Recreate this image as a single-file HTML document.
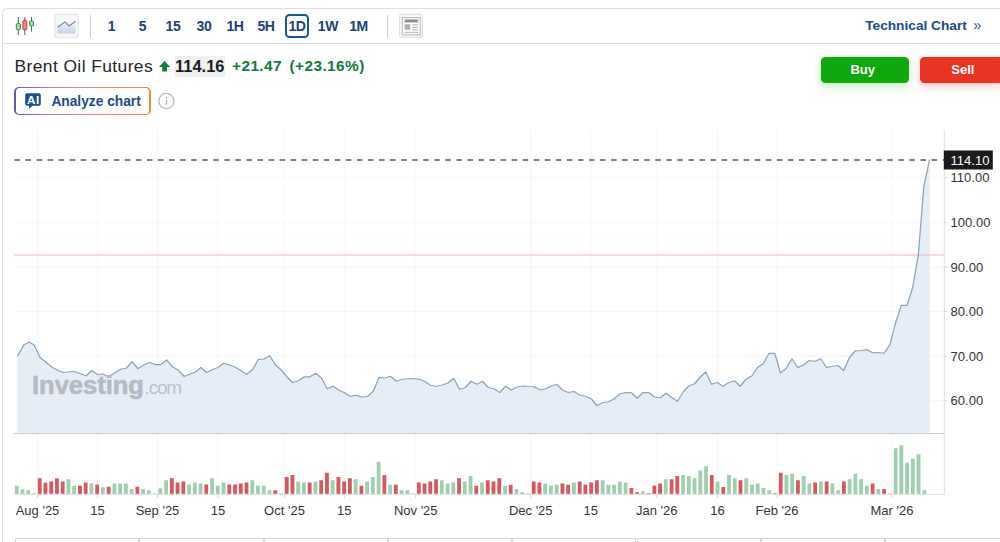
<!DOCTYPE html>
<html><head><meta charset="utf-8"><title>Brent Oil Futures</title>
<style>
html,body{margin:0;padding:0;background:#fff;}
body{width:1000px;height:542px;overflow:hidden;position:relative;font-family:"Liberation Sans",sans-serif;}
.frame{position:absolute;left:2px;top:8.15px;width:1100px;height:700px;border:1.5px solid #dedede;border-radius:4.5px;box-sizing:border-box;}
.tbsep{position:absolute;left:3px;top:42.6px;width:1000px;height:1.2px;background:#dedede;}
.tf{position:absolute;top:15px;width:30px;height:22px;line-height:22px;text-align:center;font-weight:bold;font-size:14px;color:#1c3f78;letter-spacing:-0.35px;}
.sel{position:absolute;left:285.2px;top:14.3px;width:24px;height:23.4px;box-sizing:border-box;border:2px solid #1256a0;border-radius:4.5px;}
.vsep{position:absolute;top:14.5px;width:1.1px;height:23px;background:#cdcdcd;}
.title{position:absolute;left:14.5px;top:56px;font-size:17.4px;letter-spacing:0.42px;line-height:20px;color:#232526;white-space:nowrap;}
.price{position:absolute;left:174.5px;top:55.5px;width:50px;height:21.5px;background:#eef0f1;}
.price span{position:absolute;left:0.5px;top:0;line-height:21.5px;font-weight:bold;font-size:16.4px;color:#181c21;letter-spacing:0.05px;}
.chg{position:absolute;top:56px;line-height:20px;font-weight:bold;font-size:15.4px;letter-spacing:0.42px;color:#0f7b3c;white-space:nowrap;}
.ai{position:absolute;left:14.4px;top:86.5px;width:136.2px;height:28.5px;border-radius:5px;background:linear-gradient(90deg,#5f55b8 0%,#9566c6 14%,#d979a6 32%,#e9808a 52%,#ef8658 78%,#f08a3a 100%);}
.ai .in{position:absolute;left:1.4px;top:1.4px;right:1.4px;bottom:1.4px;background:#fff;border-radius:3.5px;}
.ai .tx{position:absolute;left:37px;top:1px;line-height:28.5px;font-weight:bold;font-size:13.75px;color:#1a4a8c;white-space:nowrap;}
.btn{position:absolute;top:57px;height:26px;line-height:26px;border-radius:4.5px;color:#fff;font-weight:bold;font-size:13px;text-align:center;}
.buy{left:821px;width:88px;box-sizing:border-box;padding-right:4.6px;background:#11a70f;box-shadow:0 3px 8px rgba(17,167,15,.28);}
.sell{left:920.3px;width:85px;background:#e93323;box-shadow:0 3px 8px rgba(233,51,35,.28);}
.tech{position:absolute;left:865.2px;top:15px;line-height:22px;font-weight:bold;font-size:13.7px;color:#1c4a8a;white-space:nowrap;}
.tech2{position:absolute;left:973.3px;top:13.6px;line-height:22px;font-size:14.6px;color:#2d5590;}
.cell{position:absolute;top:537.7px;width:124.3px;height:20px;border:1px solid #d6d6d6;box-sizing:border-box;}
svg{position:absolute;left:0;top:0;}
.ax{font-family:"Liberation Sans",sans-serif;font-size:13px;fill:#333538;}
.wm{position:absolute;left:32px;top:370px;line-height:30px;white-space:nowrap;color:#b6bac5;}
.wm b{font-size:25.6px;letter-spacing:-0.05px;-webkit-text-stroke:0.55px #b6bac5;}
.wm i{font-style:normal;font-size:19px;letter-spacing:-1.2px;margin-left:0.7px;color:#bcc1cc;}
</style></head><body>
<div class="frame"></div>
<div class="tbsep"></div>
<div class="tf" style="left:96.5px">1</div>
<div class="tf" style="left:127.5px">5</div>
<div class="tf" style="left:158px">15</div>
<div class="tf" style="left:189px">30</div>
<div class="tf" style="left:220px">1H</div>
<div class="tf" style="left:251px">5H</div>
<div class="tf" style="left:282px">1D</div>
<div class="tf" style="left:313px">1W</div>
<div class="tf" style="left:343.5px">1M</div>
<div class="sel"></div>
<div class="vsep" style="left:89.5px"></div>
<div class="vsep" style="left:386.9px"></div>
<div class="tech">Technical Chart</div><div class="tech2">&raquo;</div>
<div class="title">Brent Oil Futures</div>
<div class="price"><span>114.16</span></div>
<div class="chg" style="left:232px">+21.47</div>
<div class="chg" style="left:289.5px">(+23.16%)</div>
<div class="ai"><div class="in"></div><div class="tx">Analyze chart</div></div>
<div class="btn buy">Buy</div>
<div class="btn sell">Sell</div>
<div class="cell" style="left:15.0px"></div>
<div class="cell" style="left:139.3px"></div>
<div class="cell" style="left:263.6px"></div>
<div class="cell" style="left:387.9px"></div>
<div class="cell" style="left:512.2px"></div>
<div class="cell" style="left:636.5px"></div>
<div class="cell" style="left:760.8px"></div>
<div class="cell" style="left:885.1px"></div>
<svg width="1000" height="542" viewBox="0 0 1000 542">
<defs>
<linearGradient id="lg" x1="0" y1="0" x2="0" y2="1"><stop offset="0" stop-color="#f4f6fb"/><stop offset="1" stop-color="#c6d2e8"/></linearGradient>
</defs>
<!-- toolbar icons -->
<g>
<line x1="18.3" y1="17" x2="18.3" y2="35" stroke="#5a626c" stroke-width="1"/>
<rect x="16.3" y="23.6" width="4" height="6.2" rx="1" fill="#9fe0a0" stroke="#3a8a48" stroke-width="1"/>
<line x1="24.8" y1="17" x2="24.8" y2="35" stroke="#5a626c" stroke-width="1"/>
<rect x="22.9" y="20.3" width="3.9" height="9.5" rx="1" fill="#f4828a" stroke="#c43c48" stroke-width="1"/>
<line x1="31.5" y1="17" x2="31.5" y2="31.6" stroke="#5a626c" stroke-width="1"/>
<rect x="29.6" y="21" width="3.9" height="5" rx="1" fill="#9fe0a0" stroke="#3a8a48" stroke-width="1"/>
<rect x="54.8" y="14.3" width="23.4" height="23.4" rx="2.5" fill="#f7f7f8" stroke="#e2e3e5" stroke-width="1.1"/>
<path d="M57.5,27.3 L65,21.9 L69.1,26 L75.6,21.3 L75.6,33.5 L57.5,33.5 Z" fill="url(#lg)"/>
<path d="M57.5,27.3 L65,21.9 L69.1,26 L75.6,21.3" fill="none" stroke="#74829c" stroke-width="1.1"/>
<rect x="399.6" y="14.4" width="22.8" height="23" rx="2" fill="#fafafa" stroke="#e2e2e2" stroke-width="1.2"/>
<rect x="402.3" y="17.6" width="17.9" height="17.3" fill="#fdfdfd" stroke="#b4b4b4" stroke-width="1"/>
<rect x="404.6" y="19.5" width="13.6" height="2.9" fill="#8d8d8d"/>
<rect x="404.6" y="24.2" width="5.6" height="5.6" fill="#b0b0b0"/>
<rect x="412.2" y="24.3" width="6" height="1" fill="#b4b4b4"/>
<rect x="412.2" y="26.9" width="6" height="1" fill="#b4b4b4"/>
<rect x="412.2" y="29.3" width="6" height="1" fill="#b4b4b4"/>
<rect x="404.6" y="31.8" width="13.6" height="1" fill="#b4b4b4"/>
</g>
<!-- arrow up -->
<path d="M164.6,61 L170.2,67 L167,67 L167,71.6 L162.2,71.6 L162.2,67 L159,67 Z" fill="#0f7b3c"/>
<!-- AI icon -->
<g>
<path d="M27,93.2 h12 a1.8,1.8 0 0 1 1.8,1.8 v9 a1.8,1.8 0 0 1 -1.8,1.8 h-6.4 l-3.6,3 v-3 h-2 a1.8,1.8 0 0 1 -1.8,-1.8 v-9 a1.8,1.8 0 0 1 1.8,-1.8 z" fill="#1a4f96"/>
<text x="33.35" y="103.7" text-anchor="middle" font-family="Liberation Sans, sans-serif" font-weight="bold" font-size="11.6" letter-spacing="0.5" fill="#fff">AI</text>
</g>
<!-- info -->
<circle cx="166.4" cy="101" r="7.6" fill="#fff" stroke="#b9b9b9" stroke-width="1.3"/>
<rect x="165.8" y="99.8" width="1.3" height="5" fill="#b0b0b0"/>
<rect x="165.8" y="97" width="1.3" height="1.5" fill="#b0b0b0"/>
<!-- chart -->
<line x1="37.5" y1="130" x2="37.5" y2="494.0" stroke="#f6f6f7" stroke-width="1"/>
<line x1="97.5" y1="130" x2="97.5" y2="494.0" stroke="#f6f6f7" stroke-width="1"/>
<line x1="157.5" y1="130" x2="157.5" y2="494.0" stroke="#f6f6f7" stroke-width="1"/>
<line x1="218" y1="130" x2="218" y2="494.0" stroke="#f6f6f7" stroke-width="1"/>
<line x1="284.5" y1="130" x2="284.5" y2="494.0" stroke="#f6f6f7" stroke-width="1"/>
<line x1="344.25" y1="130" x2="344.25" y2="494.0" stroke="#f6f6f7" stroke-width="1"/>
<line x1="415.75" y1="130" x2="415.75" y2="494.0" stroke="#f6f6f7" stroke-width="1"/>
<line x1="530.75" y1="130" x2="530.75" y2="494.0" stroke="#f6f6f7" stroke-width="1"/>
<line x1="590.75" y1="130" x2="590.75" y2="494.0" stroke="#f6f6f7" stroke-width="1"/>
<line x1="656.75" y1="130" x2="656.75" y2="494.0" stroke="#f6f6f7" stroke-width="1"/>
<line x1="717.5" y1="130" x2="717.5" y2="494.0" stroke="#f6f6f7" stroke-width="1"/>
<line x1="777" y1="130" x2="777" y2="494.0" stroke="#f6f6f7" stroke-width="1"/>
<line x1="892" y1="130" x2="892" y2="494.0" stroke="#f6f6f7" stroke-width="1"/>
<line x1="14" y1="177.7" x2="944.3" y2="177.7" stroke="#f6f6f7" stroke-width="1"/>
<line x1="14" y1="222.7" x2="944.3" y2="222.7" stroke="#f6f6f7" stroke-width="1"/>
<line x1="14" y1="267.2" x2="944.3" y2="267.2" stroke="#f6f6f7" stroke-width="1"/>
<line x1="14" y1="311.7" x2="944.3" y2="311.7" stroke="#f6f6f7" stroke-width="1"/>
<line x1="14" y1="356.2" x2="944.3" y2="356.2" stroke="#f6f6f7" stroke-width="1"/>
<line x1="14" y1="400.7" x2="944.3" y2="400.7" stroke="#f6f6f7" stroke-width="1"/>
<path d="M17.50,433.0 L17.50,356.25 L23.75,345.00 L28.75,342.00 L34.25,345.00 L40.00,357.50 L46.25,362.50 L52.50,367.50 L58.75,370.75 L63.75,372.50 L68.75,371.75 L74.25,371.50 L80.00,373.50 L86.25,375.75 L91.75,370.50 L97.50,374.50 L103.00,374.00 L108.75,377.00 L115.00,372.50 L121.25,369.00 L126.25,368.25 L132.00,361.75 L138.00,368.75 L143.75,365.00 L149.50,362.50 L155.00,364.50 L160.75,364.50 L166.75,360.00 L172.50,366.75 L178.00,370.00 L184.25,376.50 L190.00,374.00 L195.50,372.00 L200.75,367.50 L206.50,372.50 L212.50,369.50 L218.00,367.50 L223.75,363.25 L229.50,365.00 L235.00,367.00 L241.25,370.75 L246.75,374.25 L252.50,369.50 L258.25,359.50 L264.00,359.00 L269.75,355.75 L275.50,365.00 L281.25,370.00 L287.00,377.00 L292.75,382.50 L298.50,380.75 L304.25,376.75 L310.00,376.75 L315.75,373.25 L321.50,378.00 L327.25,388.75 L333.00,386.25 L338.75,390.00 L344.50,392.75 L350.25,396.25 L356.00,395.25 L361.75,397.00 L367.50,396.50 L373.25,391.25 L379.00,377.50 L384.75,378.00 L390.50,376.25 L396.25,381.25 L402.00,379.25 L407.75,378.75 L413.50,378.50 L419.25,379.25 L425.00,381.50 L430.75,385.50 L436.50,386.25 L442.25,385.00 L448.00,383.00 L453.75,378.25 L459.50,389.25 L465.25,387.50 L471.00,381.25 L476.75,384.25 L482.50,381.25 L488.25,387.50 L494.00,388.75 L499.75,392.50 L505.50,386.25 L511.25,390.00 L517.00,387.00 L522.75,386.00 L528.50,386.50 L534.25,386.75 L540.00,390.00 L545.75,388.75 L551.50,386.00 L556.75,384.25 L562.50,390.00 L568.25,392.50 L574.00,391.50 L579.75,395.00 L585.50,396.25 L591.25,398.75 L597.00,405.75 L602.75,402.50 L608.50,401.75 L614.25,398.75 L620.00,393.75 L625.75,392.50 L631.50,392.75 L637.25,398.25 L643.00,392.50 L648.75,392.50 L654.50,397.00 L660.25,397.75 L666.00,393.25 L671.75,397.50 L677.50,401.25 L683.25,391.75 L689.00,385.75 L694.75,383.75 L700.50,376.75 L705.75,372.00 L711.50,384.25 L717.25,382.50 L723.00,386.25 L728.75,382.50 L734.50,380.75 L740.25,386.25 L746.00,379.25 L751.75,376.00 L757.50,367.50 L763.25,363.75 L769.00,353.25 L774.75,353.25 L780.50,373.00 L786.25,368.25 L792.00,358.75 L797.75,367.50 L803.50,365.00 L809.25,360.50 L815.00,361.25 L820.75,358.75 L826.50,367.50 L832.25,366.25 L838.00,365.50 L843.75,370.50 L849.50,357.50 L855.25,350.75 L861.00,350.50 L866.75,349.50 L872.50,352.75 L878.25,352.50 L884.00,353.25 L889.80,344.80 L895.60,322.70 L901.30,305.40 L907.00,305.40 L912.60,287.80 L918.30,255.00 L923.80,186.50 L929.60,159.60 L929.60,433.0 Z" fill="#e6edf6"/>
<line x1="14" y1="255" x2="944.3" y2="255" stroke="#f4b8be" stroke-width="1"/>
<polyline points="17.50,356.25 23.75,345.00 28.75,342.00 34.25,345.00 40.00,357.50 46.25,362.50 52.50,367.50 58.75,370.75 63.75,372.50 68.75,371.75 74.25,371.50 80.00,373.50 86.25,375.75 91.75,370.50 97.50,374.50 103.00,374.00 108.75,377.00 115.00,372.50 121.25,369.00 126.25,368.25 132.00,361.75 138.00,368.75 143.75,365.00 149.50,362.50 155.00,364.50 160.75,364.50 166.75,360.00 172.50,366.75 178.00,370.00 184.25,376.50 190.00,374.00 195.50,372.00 200.75,367.50 206.50,372.50 212.50,369.50 218.00,367.50 223.75,363.25 229.50,365.00 235.00,367.00 241.25,370.75 246.75,374.25 252.50,369.50 258.25,359.50 264.00,359.00 269.75,355.75 275.50,365.00 281.25,370.00 287.00,377.00 292.75,382.50 298.50,380.75 304.25,376.75 310.00,376.75 315.75,373.25 321.50,378.00 327.25,388.75 333.00,386.25 338.75,390.00 344.50,392.75 350.25,396.25 356.00,395.25 361.75,397.00 367.50,396.50 373.25,391.25 379.00,377.50 384.75,378.00 390.50,376.25 396.25,381.25 402.00,379.25 407.75,378.75 413.50,378.50 419.25,379.25 425.00,381.50 430.75,385.50 436.50,386.25 442.25,385.00 448.00,383.00 453.75,378.25 459.50,389.25 465.25,387.50 471.00,381.25 476.75,384.25 482.50,381.25 488.25,387.50 494.00,388.75 499.75,392.50 505.50,386.25 511.25,390.00 517.00,387.00 522.75,386.00 528.50,386.50 534.25,386.75 540.00,390.00 545.75,388.75 551.50,386.00 556.75,384.25 562.50,390.00 568.25,392.50 574.00,391.50 579.75,395.00 585.50,396.25 591.25,398.75 597.00,405.75 602.75,402.50 608.50,401.75 614.25,398.75 620.00,393.75 625.75,392.50 631.50,392.75 637.25,398.25 643.00,392.50 648.75,392.50 654.50,397.00 660.25,397.75 666.00,393.25 671.75,397.50 677.50,401.25 683.25,391.75 689.00,385.75 694.75,383.75 700.50,376.75 705.75,372.00 711.50,384.25 717.25,382.50 723.00,386.25 728.75,382.50 734.50,380.75 740.25,386.25 746.00,379.25 751.75,376.00 757.50,367.50 763.25,363.75 769.00,353.25 774.75,353.25 780.50,373.00 786.25,368.25 792.00,358.75 797.75,367.50 803.50,365.00 809.25,360.50 815.00,361.25 820.75,358.75 826.50,367.50 832.25,366.25 838.00,365.50 843.75,370.50 849.50,357.50 855.25,350.75 861.00,350.50 866.75,349.50 872.50,352.75 878.25,352.50 884.00,353.25 889.80,344.80 895.60,322.70 901.30,305.40 907.00,305.40 912.60,287.80 918.30,255.00 923.80,186.50 929.60,159.60" fill="none" stroke="#88a4b8" stroke-width="1.25" stroke-linejoin="round"/>
<line x1="14" y1="433.5" x2="944.3" y2="433.5" stroke="#c9ccd2" stroke-width="1.2"/>
<rect x="14.85" y="485.75" width="3.8" height="8.25" fill="#9dcfb0"/>
<rect x="20.59" y="489.25" width="3.8" height="4.75" fill="#9dcfb0"/>
<rect x="26.34" y="490.25" width="3.8" height="3.75" fill="#9dcfb0"/>
<rect x="32.08" y="493.25" width="3.8" height="0.75" fill="#9dcfb0"/>
<rect x="37.83" y="478.25" width="3.8" height="15.75" fill="#d9575f"/>
<rect x="43.57" y="482.75" width="3.8" height="11.25" fill="#d9575f"/>
<rect x="49.31" y="481.50" width="3.8" height="12.50" fill="#d9575f"/>
<rect x="55.06" y="478.25" width="3.8" height="15.75" fill="#d9575f"/>
<rect x="60.80" y="481.50" width="3.8" height="12.50" fill="#d9575f"/>
<rect x="66.55" y="479.25" width="3.8" height="14.75" fill="#9dcfb0"/>
<rect x="72.29" y="485.75" width="3.8" height="8.25" fill="#9dcfb0"/>
<rect x="78.03" y="485.75" width="3.8" height="8.25" fill="#d9575f"/>
<rect x="83.78" y="482.50" width="3.8" height="11.50" fill="#d9575f"/>
<rect x="89.52" y="483.50" width="3.8" height="10.50" fill="#9dcfb0"/>
<rect x="95.27" y="484.50" width="3.8" height="9.50" fill="#d9575f"/>
<rect x="101.01" y="487.25" width="3.8" height="6.75" fill="#9dcfb0"/>
<rect x="106.75" y="486.75" width="3.8" height="7.25" fill="#d9575f"/>
<rect x="112.50" y="483.50" width="3.8" height="10.50" fill="#9dcfb0"/>
<rect x="118.24" y="483.50" width="3.8" height="10.50" fill="#9dcfb0"/>
<rect x="123.99" y="483.50" width="3.8" height="10.50" fill="#9dcfb0"/>
<rect x="129.73" y="489.00" width="3.8" height="5.00" fill="#9dcfb0"/>
<rect x="135.47" y="486.75" width="3.8" height="7.25" fill="#d9575f"/>
<rect x="141.22" y="489.00" width="3.8" height="5.00" fill="#9dcfb0"/>
<rect x="146.96" y="490.25" width="3.8" height="3.75" fill="#9dcfb0"/>
<rect x="152.71" y="493.50" width="3.8" height="0.50" fill="#9dcfb0"/>
<rect x="158.45" y="488.25" width="3.8" height="5.75" fill="#9dcfb0"/>
<rect x="164.19" y="480.25" width="3.8" height="13.75" fill="#9dcfb0"/>
<rect x="169.94" y="478.25" width="3.8" height="15.75" fill="#d9575f"/>
<rect x="175.68" y="482.50" width="3.8" height="11.50" fill="#d9575f"/>
<rect x="181.43" y="481.50" width="3.8" height="12.50" fill="#d9575f"/>
<rect x="187.17" y="484.50" width="3.8" height="9.50" fill="#9dcfb0"/>
<rect x="192.91" y="482.50" width="3.8" height="11.50" fill="#9dcfb0"/>
<rect x="198.66" y="483.50" width="3.8" height="10.50" fill="#9dcfb0"/>
<rect x="204.40" y="484.50" width="3.8" height="9.50" fill="#d9575f"/>
<rect x="210.15" y="478.25" width="3.8" height="15.75" fill="#9dcfb0"/>
<rect x="215.89" y="485.75" width="3.8" height="8.25" fill="#9dcfb0"/>
<rect x="221.63" y="482.50" width="3.8" height="11.50" fill="#9dcfb0"/>
<rect x="227.38" y="484.50" width="3.8" height="9.50" fill="#d9575f"/>
<rect x="233.12" y="484.50" width="3.8" height="9.50" fill="#d9575f"/>
<rect x="238.87" y="483.50" width="3.8" height="10.50" fill="#d9575f"/>
<rect x="244.61" y="482.50" width="3.8" height="11.50" fill="#d9575f"/>
<rect x="250.35" y="480.25" width="3.8" height="13.75" fill="#9dcfb0"/>
<rect x="256.10" y="485.75" width="3.8" height="8.25" fill="#9dcfb0"/>
<rect x="261.84" y="485.75" width="3.8" height="8.25" fill="#9dcfb0"/>
<rect x="267.59" y="490.25" width="3.8" height="3.75" fill="#9dcfb0"/>
<rect x="273.33" y="490.25" width="3.8" height="3.75" fill="#d9575f"/>
<rect x="279.07" y="493.50" width="3.8" height="0.50" fill="#9dcfb0"/>
<rect x="284.82" y="477.00" width="3.8" height="17.00" fill="#d9575f"/>
<rect x="290.56" y="475.00" width="3.8" height="19.00" fill="#d9575f"/>
<rect x="296.31" y="481.50" width="3.8" height="12.50" fill="#9dcfb0"/>
<rect x="302.05" y="482.50" width="3.8" height="11.50" fill="#9dcfb0"/>
<rect x="307.79" y="482.50" width="3.8" height="11.50" fill="#d9575f"/>
<rect x="313.54" y="481.50" width="3.8" height="12.50" fill="#9dcfb0"/>
<rect x="319.28" y="480.25" width="3.8" height="13.75" fill="#d9575f"/>
<rect x="325.03" y="472.75" width="3.8" height="21.25" fill="#d9575f"/>
<rect x="330.77" y="480.25" width="3.8" height="13.75" fill="#9dcfb0"/>
<rect x="336.51" y="477.00" width="3.8" height="17.00" fill="#d9575f"/>
<rect x="342.26" y="481.50" width="3.8" height="12.50" fill="#d9575f"/>
<rect x="348.00" y="478.25" width="3.8" height="15.75" fill="#d9575f"/>
<rect x="353.75" y="479.25" width="3.8" height="14.75" fill="#9dcfb0"/>
<rect x="359.49" y="485.75" width="3.8" height="8.25" fill="#d9575f"/>
<rect x="365.23" y="481.50" width="3.8" height="12.50" fill="#9dcfb0"/>
<rect x="370.98" y="477.00" width="3.8" height="17.00" fill="#9dcfb0"/>
<rect x="376.72" y="461.75" width="3.8" height="32.25" fill="#9dcfb0"/>
<rect x="382.47" y="475.00" width="3.8" height="19.00" fill="#d9575f"/>
<rect x="388.21" y="484.75" width="3.8" height="9.25" fill="#9dcfb0"/>
<rect x="393.95" y="484.75" width="3.8" height="9.25" fill="#d9575f"/>
<rect x="399.70" y="490.25" width="3.8" height="3.75" fill="#9dcfb0"/>
<rect x="405.44" y="490.25" width="3.8" height="3.75" fill="#9dcfb0"/>
<rect x="411.19" y="493.50" width="3.8" height="0.50" fill="#9dcfb0"/>
<rect x="416.93" y="482.50" width="3.8" height="11.50" fill="#d9575f"/>
<rect x="422.67" y="483.50" width="3.8" height="10.50" fill="#d9575f"/>
<rect x="428.42" y="481.50" width="3.8" height="12.50" fill="#d9575f"/>
<rect x="434.16" y="479.25" width="3.8" height="14.75" fill="#d9575f"/>
<rect x="439.91" y="480.25" width="3.8" height="13.75" fill="#9dcfb0"/>
<rect x="445.65" y="483.50" width="3.8" height="10.50" fill="#9dcfb0"/>
<rect x="451.39" y="482.50" width="3.8" height="11.50" fill="#9dcfb0"/>
<rect x="457.14" y="478.25" width="3.8" height="15.75" fill="#d9575f"/>
<rect x="462.88" y="481.50" width="3.8" height="12.50" fill="#9dcfb0"/>
<rect x="468.63" y="476.00" width="3.8" height="18.00" fill="#9dcfb0"/>
<rect x="474.37" y="485.75" width="3.8" height="8.25" fill="#d9575f"/>
<rect x="480.11" y="482.50" width="3.8" height="11.50" fill="#9dcfb0"/>
<rect x="485.86" y="480.25" width="3.8" height="13.75" fill="#d9575f"/>
<rect x="491.60" y="481.50" width="3.8" height="12.50" fill="#d9575f"/>
<rect x="497.35" y="478.25" width="3.8" height="15.75" fill="#d9575f"/>
<rect x="503.09" y="485.75" width="3.8" height="8.25" fill="#9dcfb0"/>
<rect x="508.83" y="484.75" width="3.8" height="9.25" fill="#d9575f"/>
<rect x="514.58" y="489.00" width="3.8" height="5.00" fill="#9dcfb0"/>
<rect x="520.32" y="492.25" width="3.8" height="1.75" fill="#9dcfb0"/>
<rect x="526.07" y="493.25" width="3.8" height="0.75" fill="#9dcfb0"/>
<rect x="531.81" y="481.50" width="3.8" height="12.50" fill="#d9575f"/>
<rect x="537.55" y="482.50" width="3.8" height="11.50" fill="#d9575f"/>
<rect x="543.30" y="483.50" width="3.8" height="10.50" fill="#9dcfb0"/>
<rect x="549.04" y="485.75" width="3.8" height="8.25" fill="#9dcfb0"/>
<rect x="554.79" y="484.75" width="3.8" height="9.25" fill="#9dcfb0"/>
<rect x="560.53" y="483.50" width="3.8" height="10.50" fill="#d9575f"/>
<rect x="566.27" y="484.75" width="3.8" height="9.25" fill="#d9575f"/>
<rect x="572.02" y="482.50" width="3.8" height="11.50" fill="#9dcfb0"/>
<rect x="577.76" y="481.50" width="3.8" height="12.50" fill="#d9575f"/>
<rect x="583.51" y="484.75" width="3.8" height="9.25" fill="#d9575f"/>
<rect x="589.25" y="482.50" width="3.8" height="11.50" fill="#d9575f"/>
<rect x="594.99" y="480.25" width="3.8" height="13.75" fill="#d9575f"/>
<rect x="600.74" y="480.25" width="3.8" height="13.75" fill="#9dcfb0"/>
<rect x="606.48" y="484.75" width="3.8" height="9.25" fill="#9dcfb0"/>
<rect x="612.23" y="484.75" width="3.8" height="9.25" fill="#9dcfb0"/>
<rect x="617.97" y="481.50" width="3.8" height="12.50" fill="#9dcfb0"/>
<rect x="623.71" y="482.50" width="3.8" height="11.50" fill="#9dcfb0"/>
<rect x="629.46" y="488.00" width="3.8" height="6.00" fill="#d9575f"/>
<rect x="635.20" y="492.25" width="3.8" height="1.75" fill="#d9575f"/>
<rect x="640.95" y="491.25" width="3.8" height="2.75" fill="#9dcfb0"/>
<rect x="646.69" y="493.25" width="3.8" height="0.75" fill="#d9575f"/>
<rect x="652.43" y="485.75" width="3.8" height="8.25" fill="#d9575f"/>
<rect x="658.18" y="483.50" width="3.8" height="10.50" fill="#d9575f"/>
<rect x="663.92" y="479.25" width="3.8" height="14.75" fill="#9dcfb0"/>
<rect x="669.67" y="479.25" width="3.8" height="14.75" fill="#d9575f"/>
<rect x="675.41" y="476.00" width="3.8" height="18.00" fill="#d9575f"/>
<rect x="681.15" y="475.00" width="3.8" height="19.00" fill="#9dcfb0"/>
<rect x="686.90" y="476.00" width="3.8" height="18.00" fill="#9dcfb0"/>
<rect x="692.64" y="478.25" width="3.8" height="15.75" fill="#9dcfb0"/>
<rect x="698.39" y="470.50" width="3.8" height="23.50" fill="#9dcfb0"/>
<rect x="704.13" y="466.25" width="3.8" height="27.75" fill="#9dcfb0"/>
<rect x="709.87" y="475.00" width="3.8" height="19.00" fill="#d9575f"/>
<rect x="715.62" y="481.50" width="3.8" height="12.50" fill="#9dcfb0"/>
<rect x="721.36" y="487.00" width="3.8" height="7.00" fill="#d9575f"/>
<rect x="727.11" y="475.00" width="3.8" height="19.00" fill="#9dcfb0"/>
<rect x="732.85" y="478.25" width="3.8" height="15.75" fill="#9dcfb0"/>
<rect x="738.59" y="480.25" width="3.8" height="13.75" fill="#d9575f"/>
<rect x="744.34" y="478.25" width="3.8" height="15.75" fill="#9dcfb0"/>
<rect x="750.08" y="484.75" width="3.8" height="9.25" fill="#9dcfb0"/>
<rect x="755.83" y="483.50" width="3.8" height="10.50" fill="#9dcfb0"/>
<rect x="761.57" y="488.00" width="3.8" height="6.00" fill="#9dcfb0"/>
<rect x="767.31" y="490.25" width="3.8" height="3.75" fill="#9dcfb0"/>
<rect x="773.06" y="493.25" width="3.8" height="0.75" fill="#d9575f"/>
<rect x="778.80" y="472.75" width="3.8" height="21.25" fill="#d9575f"/>
<rect x="784.55" y="475.00" width="3.8" height="19.00" fill="#9dcfb0"/>
<rect x="790.29" y="473.75" width="3.8" height="20.25" fill="#9dcfb0"/>
<rect x="796.03" y="480.25" width="3.8" height="13.75" fill="#d9575f"/>
<rect x="801.78" y="476.00" width="3.8" height="18.00" fill="#9dcfb0"/>
<rect x="807.52" y="483.50" width="3.8" height="10.50" fill="#9dcfb0"/>
<rect x="813.27" y="482.50" width="3.8" height="11.50" fill="#d9575f"/>
<rect x="819.01" y="481.50" width="3.8" height="12.50" fill="#9dcfb0"/>
<rect x="824.75" y="481.50" width="3.8" height="12.50" fill="#d9575f"/>
<rect x="830.50" y="483.50" width="3.8" height="10.50" fill="#9dcfb0"/>
<rect x="836.24" y="490.25" width="3.8" height="3.75" fill="#9dcfb0"/>
<rect x="841.99" y="481.50" width="3.8" height="12.50" fill="#d9575f"/>
<rect x="847.73" y="479.25" width="3.8" height="14.75" fill="#9dcfb0"/>
<rect x="853.47" y="473.75" width="3.8" height="20.25" fill="#9dcfb0"/>
<rect x="859.22" y="479.25" width="3.8" height="14.75" fill="#9dcfb0"/>
<rect x="864.96" y="485.75" width="3.8" height="8.25" fill="#9dcfb0"/>
<rect x="870.71" y="483.50" width="3.8" height="10.50" fill="#d9575f"/>
<rect x="876.45" y="489.00" width="3.8" height="5.00" fill="#9dcfb0"/>
<rect x="882.19" y="489.00" width="3.8" height="5.00" fill="#d9575f"/>
<rect x="887.94" y="493.50" width="3.8" height="0.50" fill="#9dcfb0"/>
<rect x="893.68" y="448.25" width="3.8" height="45.75" fill="#9dcfb0"/>
<rect x="899.43" y="445.25" width="3.8" height="48.75" fill="#9dcfb0"/>
<rect x="905.17" y="462.75" width="3.8" height="31.25" fill="#9dcfb0"/>
<rect x="910.91" y="458.50" width="3.8" height="35.50" fill="#9dcfb0"/>
<rect x="916.66" y="454.25" width="3.8" height="39.75" fill="#9dcfb0"/>
<rect x="922.40" y="490.25" width="3.8" height="3.75" fill="#9dcfb0"/>
<line x1="14" y1="494.3" x2="944.3" y2="494.3" stroke="#dcdee2" stroke-width="1"/>
<line x1="944.3" y1="130" x2="944.3" y2="494.5" stroke="#e0e1e4" stroke-width="1.1"/>
<line x1="37.5" y1="494.0" x2="37.5" y2="498.0" stroke="#d4d6da" stroke-width="1"/>
<line x1="97.5" y1="494.0" x2="97.5" y2="498.0" stroke="#d4d6da" stroke-width="1"/>
<line x1="157.5" y1="494.0" x2="157.5" y2="498.0" stroke="#d4d6da" stroke-width="1"/>
<line x1="218" y1="494.0" x2="218" y2="498.0" stroke="#d4d6da" stroke-width="1"/>
<line x1="284.5" y1="494.0" x2="284.5" y2="498.0" stroke="#d4d6da" stroke-width="1"/>
<line x1="344.25" y1="494.0" x2="344.25" y2="498.0" stroke="#d4d6da" stroke-width="1"/>
<line x1="415.75" y1="494.0" x2="415.75" y2="498.0" stroke="#d4d6da" stroke-width="1"/>
<line x1="530.75" y1="494.0" x2="530.75" y2="498.0" stroke="#d4d6da" stroke-width="1"/>
<line x1="590.75" y1="494.0" x2="590.75" y2="498.0" stroke="#d4d6da" stroke-width="1"/>
<line x1="656.75" y1="494.0" x2="656.75" y2="498.0" stroke="#d4d6da" stroke-width="1"/>
<line x1="717.5" y1="494.0" x2="717.5" y2="498.0" stroke="#d4d6da" stroke-width="1"/>
<line x1="777" y1="494.0" x2="777" y2="498.0" stroke="#d4d6da" stroke-width="1"/>
<line x1="892" y1="494.0" x2="892" y2="498.0" stroke="#d4d6da" stroke-width="1"/>
<line x1="944.3" y1="177.7" x2="947.3" y2="177.7" stroke="#d4d6da" stroke-width="1"/>
<line x1="944.3" y1="222.7" x2="947.3" y2="222.7" stroke="#d4d6da" stroke-width="1"/>
<line x1="944.3" y1="267.2" x2="947.3" y2="267.2" stroke="#d4d6da" stroke-width="1"/>
<line x1="944.3" y1="311.7" x2="947.3" y2="311.7" stroke="#d4d6da" stroke-width="1"/>
<line x1="944.3" y1="356.2" x2="947.3" y2="356.2" stroke="#d4d6da" stroke-width="1"/>
<line x1="944.3" y1="400.7" x2="947.3" y2="400.7" stroke="#d4d6da" stroke-width="1"/>
<line x1="14.4" y1="160" x2="944.3" y2="160" stroke="#555" stroke-width="1.4" stroke-dasharray="5.5 5.55"/>
<text x="37.5" y="515.2" text-anchor="middle" class="ax">Aug '25</text>
<text x="97.5" y="515.2" text-anchor="middle" class="ax">15</text>
<text x="157.5" y="515.2" text-anchor="middle" class="ax">Sep '25</text>
<text x="218" y="515.2" text-anchor="middle" class="ax">15</text>
<text x="284.5" y="515.2" text-anchor="middle" class="ax">Oct '25</text>
<text x="344.25" y="515.2" text-anchor="middle" class="ax">15</text>
<text x="415.75" y="515.2" text-anchor="middle" class="ax">Nov '25</text>
<text x="530.75" y="515.2" text-anchor="middle" class="ax">Dec '25</text>
<text x="590.75" y="515.2" text-anchor="middle" class="ax">15</text>
<text x="656.75" y="515.2" text-anchor="middle" class="ax">Jan '26</text>
<text x="717.5" y="515.2" text-anchor="middle" class="ax">16</text>
<text x="777" y="515.2" text-anchor="middle" class="ax">Feb '26</text>
<text x="892" y="515.2" text-anchor="middle" class="ax">Mar '26</text>
<text x="950.6" y="182.29999999999998" class="ax">110.00</text>
<text x="950.6" y="227.29999999999998" class="ax">100.00</text>
<text x="950.6" y="271.8" class="ax">90.00</text>
<text x="950.6" y="316.3" class="ax">80.00</text>
<text x="950.6" y="360.8" class="ax">70.00</text>
<text x="950.6" y="405.3" class="ax">60.00</text>
<rect x="943.8" y="150.5" width="49" height="19" fill="#1b1b1b"/>
<text x="950.6" y="164.7" class="ax" style="fill:#fff">114.10</text>
</svg>
<div class="wm"><b>Investing</b><i>.com</i></div>
</body></html>
